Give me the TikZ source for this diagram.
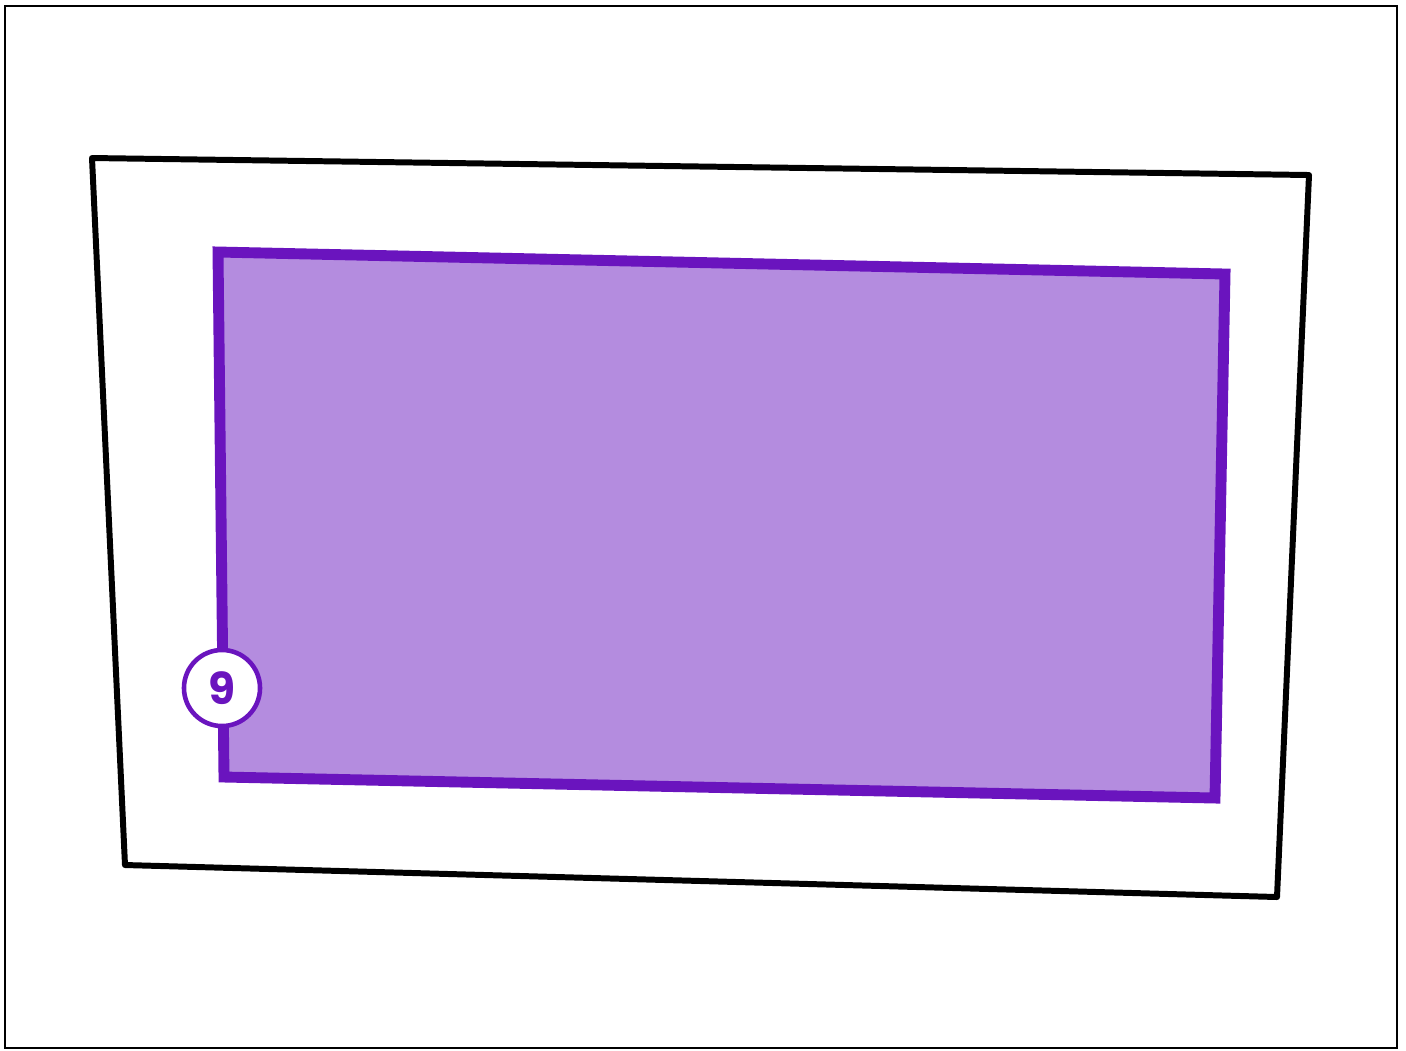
\documentclass[tikz,border=0pt]{standalone}
\usepackage{fontspec}
\usepackage{tikz}
\newfontfamily\badgefont{Poppins}
\definecolor{areapurple}{RGB}{106,20,190}
\definecolor{areafill}{RGB}{180,140,223}

\begin{document}
\begin{tikzpicture}[
  x=0.01cm, y=-0.01cm,
  frame/.style={draw=black, line width=0.7pt},
  sheet/.style={draw=black, line width=1.7pt, line join=round},
  area/.style={draw=areapurple, fill=areafill, line width=3.1pt, line join=miter},
  badge/.style={circle, draw=areapurple, fill=white, line width=1.3pt, minimum size=0.76cm, inner sep=0pt, text=areapurple, font=\badgefont\bfseries\fontsize{12.5}{12.5}\selectfont}
]
\useasboundingbox (0,0) rectangle (1406,1050);
% outer border
\draw[frame] (5,6) rectangle (1397,1048);

% sheet outline
\coordinate (s1) at (92,158);
\coordinate (s2) at (1309,175);
\coordinate (s3) at (1277,897);
\coordinate (s4) at (125,865);
\draw[sheet] (s1) -- (s2) -- (s3) -- (s4) -- cycle;

% highlighted area
\coordinate (a1) at (218,252);
\coordinate (a2) at (1225,274);
\coordinate (a3) at (1215,798);
\coordinate (a4) at (224,777);
\draw[area] (a1) -- (a2) -- (a3) -- (a4) -- cycle;

% label
\node[badge] (nine) at (222,688) {9};
\end{tikzpicture}
\end{document}
